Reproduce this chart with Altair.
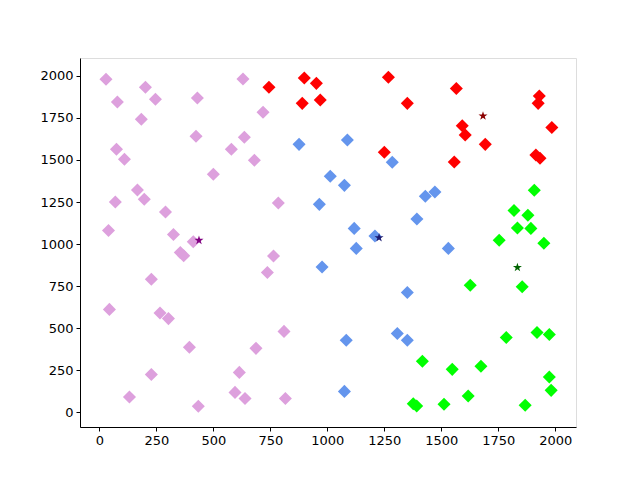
import altair as alt
import pandas as pd

# cluster point coordinates
pink_x = [29, 202, 79, 246, 430, 630, 184, 718, 424, 636, 75, 110, 579, 680, 500, 167, 197, 70, 290, 785, 40, 325, 412,
          355, 370, 764, 737, 228, 44, 266, 303, 810, 395, 687, 228, 614, 132, 595, 639, 816, 434]
pink_y = [1980, 1933, 1845, 1861, 1869, 1982, 1742, 1784, 1641, 1635, 1564, 1504, 1564, 1498, 1415, 1321, 1266, 1250, 1190, 1244, 1081, 1057, 1014,
          950, 930, 929, 831, 790, 611, 589, 556, 480, 385, 379, 224, 236, 89, 117, 81, 81, 34]

red_x = [744, 899, 952, 890, 969, 1268, 1566, 1351, 1930, 1925, 1592, 1605, 1985, 1693, 1250, 1557, 1915, 1933]
red_y = [1933, 1988, 1956, 1837, 1857, 1992, 1926, 1837, 1881, 1837, 1704, 1649, 1694, 1593, 1546, 1488, 1530, 1510]

blue_x = [876, 965, 1088, 1285, 1013, 1075, 1430, 1472, 1393, 1118, 1209, 1127, 1531, 977, 1351, 1083, 1307, 1351, 1075]
blue_y = [1593, 1236, 1619, 1486, 1403, 1349, 1284, 1310, 1149, 1093, 1048, 974, 974, 863, 712, 427, 468, 427, 123]

green_x = [1908, 1819, 1880, 1834, 1893, 1754, 1950, 1627, 1855, 1785, 1920, 1974, 1417, 1548, 1674, 1974, 1982, 1618, 1377, 1392, 1512, 1868]
green_y = [1320, 1200, 1171, 1095, 1093, 1022, 1004, 754, 746, 444, 474, 462, 302, 254, 272, 208, 129, 95, 49, 36, 46, 40]

centroid_x = [437, 1227, 1683, 1834]
centroid_y = [1022, 1038, 1762, 861]

clusters = ["pink", "red", "blue", "green"]
point_colors = ["#DDA0DD", "#FF0000", "#6495ED", "#00FF00"]
centroid_colors = ["#800080", "#191970", "#8B0000", "#006400"]
centroid_names = ["c_pink", "c_blue", "c_red", "c_green"]

rows = []
for name, xs, ys in [("pink", pink_x, pink_y), ("red", red_x, red_y), ("blue", blue_x, blue_y), ("green", green_x, green_y)]:
    for x, y in zip(xs, ys):
        rows.append({"x": x, "y": y, "cluster": name})
pts = pd.DataFrame(rows)
cen = pd.DataFrame({"x": centroid_x, "y": centroid_y, "cluster": centroid_names})

xscale = alt.Scale(domain=[-85, 2091], nice=False, zero=False)
yscale = alt.Scale(domain=[-89, 2107], nice=False, zero=False)
tick_vals = [0, 250, 500, 750, 1000, 1250, 1500, 1750, 2000]

xaxis = alt.Axis(values=tick_vals, format="d", title=None, grid=False, domainColor="black", tickColor="black",
                 tickSize=4, labelFont="DejaVu Sans", labelFontSize=13, labelColor="black", labelPadding=3)
yaxis = alt.Axis(values=tick_vals, format="d", title=None, grid=False, domainColor="black", tickColor="black",
                 tickSize=4, labelFont="DejaVu Sans", labelFontSize=13, labelColor="black", labelPadding=3)

points = alt.Chart(pts).mark_point(shape="diamond", filled=True, opacity=1, size=170).encode(
    x=alt.X("x:Q", scale=xscale, axis=xaxis),
    y=alt.Y("y:Q", scale=yscale, axis=yaxis),
    color=alt.Color("cluster:N", scale=alt.Scale(domain=clusters, range=point_colors), legend=None),
)

stars = alt.Chart(cen).mark_point(shape="M0,-1L0.2245,-0.309L0.951,-0.309L0.363,0.118L0.588,0.809L0,0.382L-0.588,0.809L-0.363,0.118L-0.951,-0.309L-0.2245,-0.309Z",
                                  filled=True, opacity=1, size=90).encode(
    x="x:Q",
    y="y:Q",
    color=alt.Color("cluster:N", scale=alt.Scale(domain=centroid_names, range=centroid_colors), legend=None),
)

chart = alt.layer(points, stars).resolve_scale(color="independent").properties(
    width=496, height=369,
    autosize=alt.AutoSizeParams(type="none"),
    padding={"left": 72, "top": 50, "right": 56, "bottom": 45},
).configure_view(stroke="black", strokeWidth=1).configure(background="white")

chart.save("out.html", embed_options={"renderer": "svg", "actions": False})
